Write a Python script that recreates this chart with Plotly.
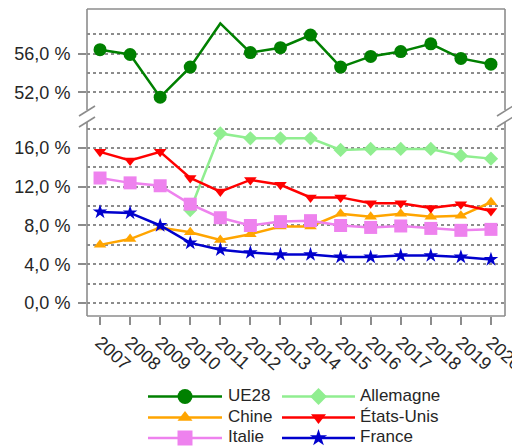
import plotly.graph_objects as go

# --- data -------------------------------------------------------------
years = list(range(2007, 2021))

ue28 = [56.4, 55.9, 51.5, 54.6, 59.1, 56.1, 56.6, 57.9, 54.6, 55.7, 56.2, 57.0, 55.5, 54.9]
allemagne = [None, None, None, 9.6, 17.5, 17.0, 17.0, 17.0, 15.8, 15.9, 15.9, 15.9, 15.2, 14.9]
chine = [6.0, 6.6, 7.8, 7.3, 6.5, 7.1, 7.9, 7.9, 9.2, 8.9, 9.2, 8.9, 9.0, 10.4]
etats_unis = [15.6, 14.7, 15.6, 12.9, 11.5, 12.7, 12.2, 10.9, 10.9, 10.3, 10.3, 9.8, 10.2, 9.5]
italie = [12.9, 12.4, 12.1, 10.2, 8.8, 8.0, 8.4, 8.5, 8.0, 7.8, 7.95, 7.7, 7.5, 7.6]
france = [9.4, 9.3, 8.0, 6.2, 5.5, 5.2, 5.0, 5.0, 4.75, 4.75, 4.9, 4.9, 4.75, 4.5]

upper_ticks = [52, 56]
upper_minor = [54, 58]
lower_ticks = [0, 4, 8, 12, 16]
lower_minor = [2, 6, 10, 14, 18]

# --- page geometry (pixels) ------------------------------------------
W, H = 512, 446
X0, X1 = 87, 505          # plot frame left/right
Y_TOP, Y_BOT = 9, 316     # plot frame top/bottom
UP_BOT, LOW_TOP = 110, 122  # axis break


def px(x):
    return x / W


def py(y):
    return (H - y) / H


def pct(v):
    return f"{v:.1f}".replace(".", ",") + " %"


GRID = "#8c8c8c"
FRAME = "#8c8c8c"
TXT = "#262626"
FONT = "Liberation Sans, Arial, sans-serif"

series = [
    ("UE28", ue28, "#008000", "circle", 13, "upper"),
    ("Allemagne", allemagne, "#90EE90", "diamond", 11, "lower"),
    ("Chine", chine, "#FFA500", "triangle-up", 11, "lower"),
    ("États-Unis", etats_unis, "#FF0000", "triangle-down", 11, "lower"),
    ("Italie", italie, "#EE82EE", "square", 13, "lower"),
    ("France", france, "#0000CD", "star", 11, "lower"),
]

fig = go.Figure()

for name, vals, color, sym, size, panel in series:
    sizes = [size] * len(vals)
    if name == "UE28":
        sizes[years.index(2011)] = 0
    fig.add_trace(go.Scatter(
        x=years, y=vals, name=name, mode="lines+markers",
        line=dict(color=color, width=2.5),
        marker=dict(symbol=sym, size=sizes, color=color, opacity=1,
                    line=dict(width=0)),
        xaxis="x2" if panel == "upper" else "x",
        yaxis="y2" if panel == "upper" else "y",
        showlegend=False, cliponaxis=False,
    ))

# --- legend drawn on its own pixel-scaled axes -------------------------
col_x = [(148, 222, 228), (282, 355, 360)]
row_y = [396.5, 417.5, 438]
for i, (name, vals, color, sym, size, panel) in enumerate(series):
    r, c = divmod(i, 2)
    xa, xb, xt = col_x[c]
    yy = row_y[r]
    fig.add_trace(go.Scatter(
        x=[xa, xb], y=[yy, yy], mode="lines",
        line=dict(color=color, width=2.5),
        xaxis="x3", yaxis="y3", showlegend=False, hoverinfo="skip",
    ))
    fig.add_trace(go.Scatter(
        x=[(xa + xb) / 2], y=[yy], mode="markers",
        marker=dict(symbol=sym, size=size + 2, color=color, opacity=1,
                    line=dict(width=0)),
        xaxis="x3", yaxis="y3", showlegend=False, hoverinfo="skip",
    ))
    fig.add_trace(go.Scatter(
        x=[xt], y=[yy], mode="text", text=[name],
        textposition="middle right",
        textfont=dict(family=FONT, size=17, color=TXT),
        xaxis="x3", yaxis="y3", showlegend=False, hoverinfo="skip",
        cliponaxis=False,
    ))

# --- frame with break marks -------------------------------------------
shapes = []


def seg(xa, ya, xb, yb):
    shapes.append(dict(type="line", xref="paper", yref="paper",
                       x0=px(xa), y0=py(ya), x1=px(xb), y1=py(yb),
                       line=dict(color=FRAME, width=1.6)))


seg(X0, Y_TOP, X1, Y_TOP)
seg(X0, Y_BOT, X1, Y_BOT)
for xe in (X0, X1):
    seg(xe, Y_TOP, xe, UP_BOT)
    seg(xe, LOW_TOP, xe, Y_BOT)
    seg(xe - 8, UP_BOT + 6, xe + 8, UP_BOT - 4)
    seg(xe - 8, LOW_TOP + 5, xe + 8, LOW_TOP - 5)

x_range = [2006.567, 2020.467]
lower_range = [-1.34, 18.68]
upper_range = [50.18, 60.59]

yaxis_common = dict(
    showgrid=True, gridcolor=GRID, gridwidth=2, griddash="dot",
    zeroline=False, showline=False, automargin=False,
    ticks="outside", ticklen=8, tickcolor=FRAME, tickwidth=1.5,
    tickfont=dict(family=FONT, size=18, color=TXT),
    ticklabelstandoff=4,
)

fig.update_layout(
    width=W, height=H,
    margin=dict(l=0, r=0, t=0, b=0, autoexpand=False),
    paper_bgcolor="white", plot_bgcolor="white",
    shapes=shapes,
    xaxis=dict(
        domain=[px(X0), px(X1)], anchor="y", range=x_range, automargin=False,
        tickmode="array", tickvals=years, ticktext=[str(y) for y in years],
        tickangle=42, ticks="outside", ticklen=8, tickcolor=FRAME, tickwidth=1.5,
        tickfont=dict(family=FONT, size=18, color=TXT),
        ticklabeloverflow="allow",
        showgrid=False, zeroline=False, showline=False,
    ),
    xaxis2=dict(domain=[px(X0), px(X1)], anchor="y2", range=x_range,
                automargin=False, visible=False),
    yaxis=dict(
        domain=[py(Y_BOT), py(LOW_TOP)], anchor="x", range=lower_range,
        tickmode="array", tickvals=lower_ticks,
        ticktext=[pct(v) for v in lower_ticks],
        minor=dict(tickmode="array", tickvals=lower_minor, showgrid=True,
                   gridcolor=GRID, gridwidth=2, griddash="dot", ticks=""),
        **yaxis_common,
    ),
    yaxis2=dict(
        domain=[py(UP_BOT), py(Y_TOP)], anchor="x2", range=upper_range,
        tickmode="array", tickvals=upper_ticks,
        ticktext=[pct(v) for v in upper_ticks],
        minor=dict(tickmode="array", tickvals=upper_minor, showgrid=True,
                   gridcolor=GRID, gridwidth=2, griddash="dot", ticks=""),
        **yaxis_common,
    ),
    xaxis3=dict(domain=[0, 1], anchor="y3", range=[0, W], visible=False,
                automargin=False),
    yaxis3=dict(domain=[0, py(380)], anchor="x3", range=[H, 380], visible=False,
                automargin=False),
)

fig.write_html("out.html")
